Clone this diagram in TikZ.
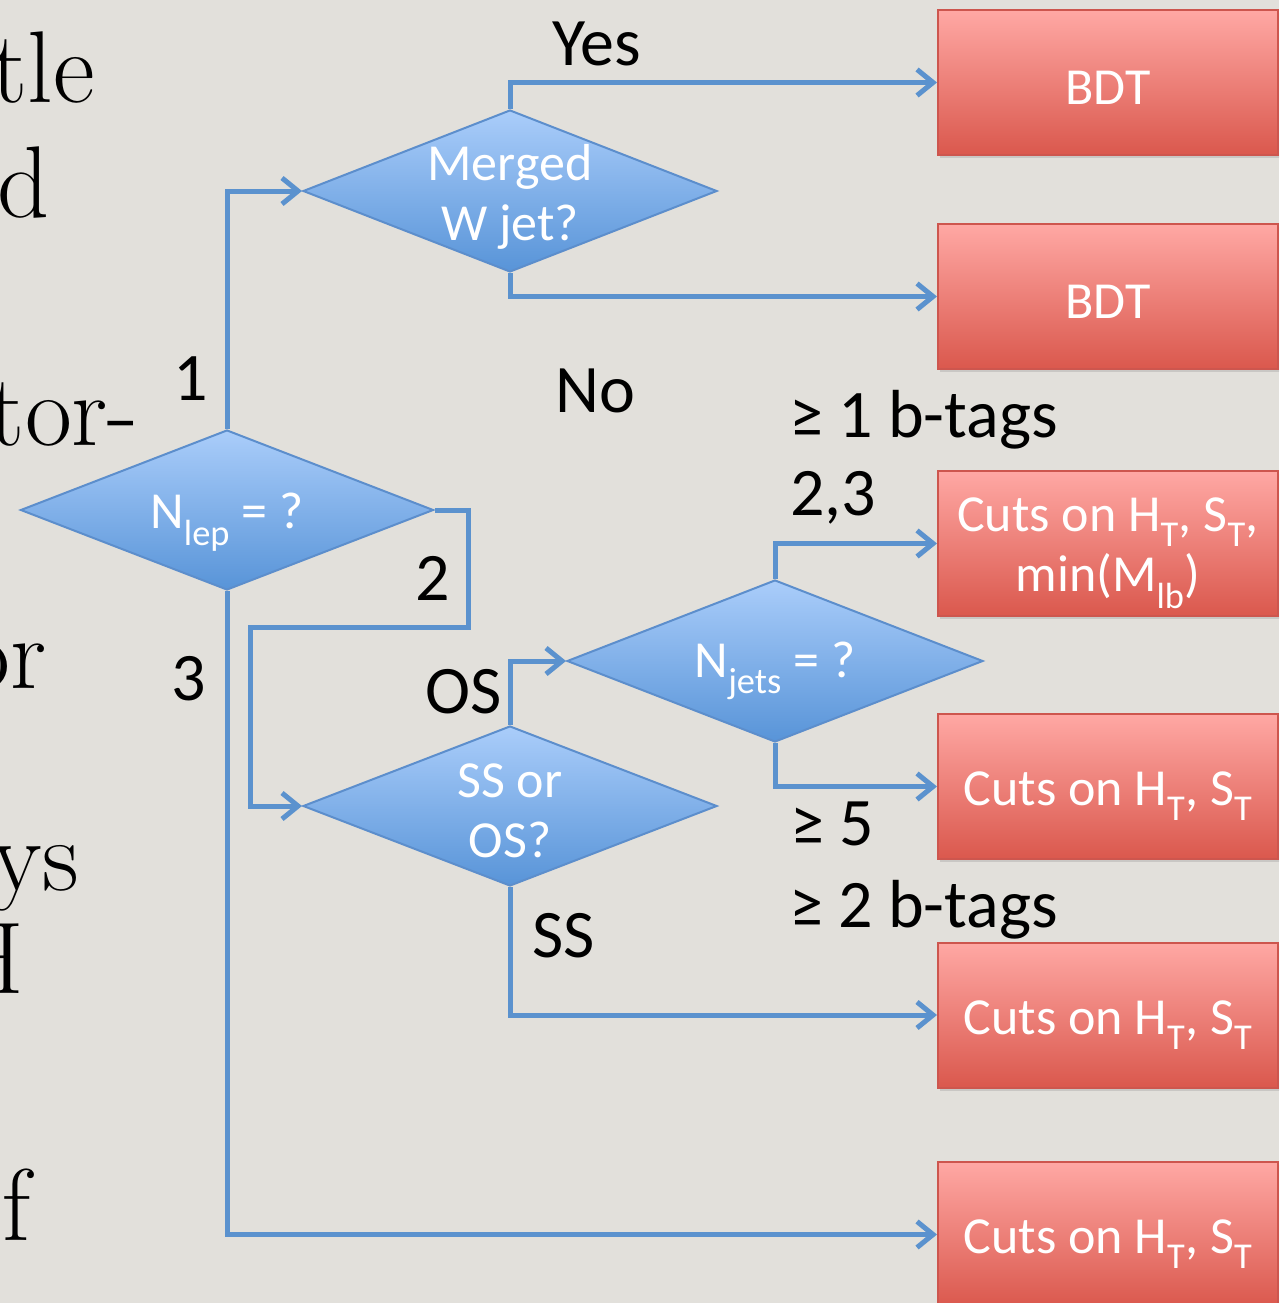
\documentclass[tikz,border=0pt]{standalone}
\usepackage{fontspec}
\newfontfamily\calfont{Carlito}
\usetikzlibrary{shapes.geometric,arrows.meta,shadows}
\definecolor{bg}{RGB}{226,224,219}
\definecolor{ln}{RGB}{91,146,206}
\definecolor{dtop}{RGB}{170,205,250}
\definecolor{dbot}{RGB}{88,148,216}
\definecolor{dbord}{RGB}{92,142,204}
\definecolor{rtop}{RGB}{255,168,164}
\definecolor{rbot}{RGB}{218,88,77}
\definecolor{rbord}{RGB}{205,86,78}
\begin{document}
\begin{tikzpicture}[x=1pt,y=-1pt,
  dia/.style={diamond, draw=dbord, line width=2pt, top color=dtop, bottom color=dbot, inner sep=0pt},
  dtext/.style={text=white, font=\calfont\fontsize{52}{60}\selectfont, align=center, inner sep=0pt},
  rbox/.style={rectangle, draw=rbord, line width=2pt, top color=rtop, bottom color=rbot,
    minimum width=340pt, minimum height=145pt, inner sep=0pt,
    drop shadow={shadow xshift=2pt, shadow yshift=-3pt, opacity=0.25}},
  lbl/.style={font=\calfont\fontsize{68}{80}\selectfont, text=black, inner sep=0pt},
  serif/.style={font=\rmfamily\fontsize{102}{120}\selectfont, text=black, inner sep=0pt},
  conn/.style={draw=ln, line width=5pt, -{Straight Barb[length=16pt,width=26pt]}}]
\useasboundingbox (0,0) rectangle (1279,1303);
\clip (0,0) rectangle (1279,1303);
\fill[bg] (0,0) rectangle (1279,1303);

% cut-off slide text at left
\node[serif, anchor=base east] (s1) at (95,103) {tle};
\node[serif, anchor=base east] (s2) at (50,217) {d};
\node[serif, anchor=base east] (s3) at (139,445) {tor-};
\node[serif, anchor=base east] (s4) at (47,688) {or};
\node[serif, anchor=base east] (s5) at (79,890) {ys};
\node[serif, anchor=base east] (s6) at (24,993) {H};
\node[serif, anchor=base east] (s7) at (31,1240) {f};

% decision diamonds
\node[dia, minimum width=413pt, minimum height=160pt, label={[dtext, yshift=-12pt]center:N\textsubscript{lep} = ?}] (nlep) at (227,510) {};
\node[dia, minimum width=414pt, minimum height=162pt, label={[dtext, yshift=-6pt]center:Merged\\W jet?}] (mw) at (510,191) {};
\node[dia, minimum width=414pt, minimum height=160pt, label={[dtext, yshift=-5pt]center:SS or\\OS?}] (ss) at (510,806) {};
\node[dia, minimum width=416pt, minimum height=162pt, label={[dtext, yshift=-10pt]center:N\textsubscript{jets} = ?}] (nj) at (775,661) {};

% result boxes
\node[rbox, label={[dtext, yshift=-5pt]center:BDT}] (bdt1) at (1108,82.5) {};
\node[rbox, label={[dtext, yshift=-5pt]center:BDT}] (bdt2) at (1108,296.5) {};
\node[rbox, label={[dtext, yshift=-10pt]center:Cuts on H\textsubscript{T}, S\textsubscript{T},\\min(M\textsubscript{lb})}] (cut1) at (1108,543.5) {};
\node[rbox, label={[dtext, yshift=-10pt]center:Cuts on H\textsubscript{T}, S\textsubscript{T}}] (cut2) at (1108,786.5) {};
\node[rbox, label={[dtext, yshift=-10pt]center:Cuts on H\textsubscript{T}, S\textsubscript{T}}] (cut3) at (1108,1015) {};
\node[rbox, label={[dtext, yshift=-10pt]center:Cuts on H\textsubscript{T}, S\textsubscript{T}}] (cut4) at (1108,1234.5) {};

% connectors
\coordinate (k1) at (468,627);
\coordinate (k2) at (250,627);
\draw[conn] (nlep.north) |- (mw.west);
\draw[conn] (nlep.east) -| (k1) -- (k2) |- (ss.west);
\draw[conn] (nlep.south) |- (cut4.west);
\draw[conn] (mw.north) |- (bdt1.west);
\draw[conn] (mw.south) |- (bdt2.west);
\draw[conn] (ss.north) |- (nj.west);
\draw[conn] (ss.south) |- (cut3.west);
\draw[conn] (nj.north) |- (cut1.west);
\draw[conn] (nj.south) |- (cut2.west);

% branch labels
\node[lbl, anchor=base west] (yes) at (552,66) {Yes};
\node[lbl, anchor=base west] (no) at (555,412) {No};
\node[lbl, anchor=base west] (one) at (173,400) {1};
\node[lbl, anchor=base west] (two) at (415,600) {2};
\node[lbl, anchor=base west] (three) at (171,700) {3};
\node[lbl, anchor=base west] (os) at (425,713) {OS};
\node[lbl, anchor=base west] (ssl) at (532,957) {SS};
\node[lbl, anchor=base west] (b1) at (789,437) {≥ 1 b-tags};
\node[lbl, anchor=base west] (j23) at (790,515) {2,3};
\node[lbl, anchor=base west] (j5) at (790,845) {≥ 5};
\node[lbl, anchor=base west] (b2) at (789,927) {≥ 2 b-tags};
\end{tikzpicture}
\end{document}
